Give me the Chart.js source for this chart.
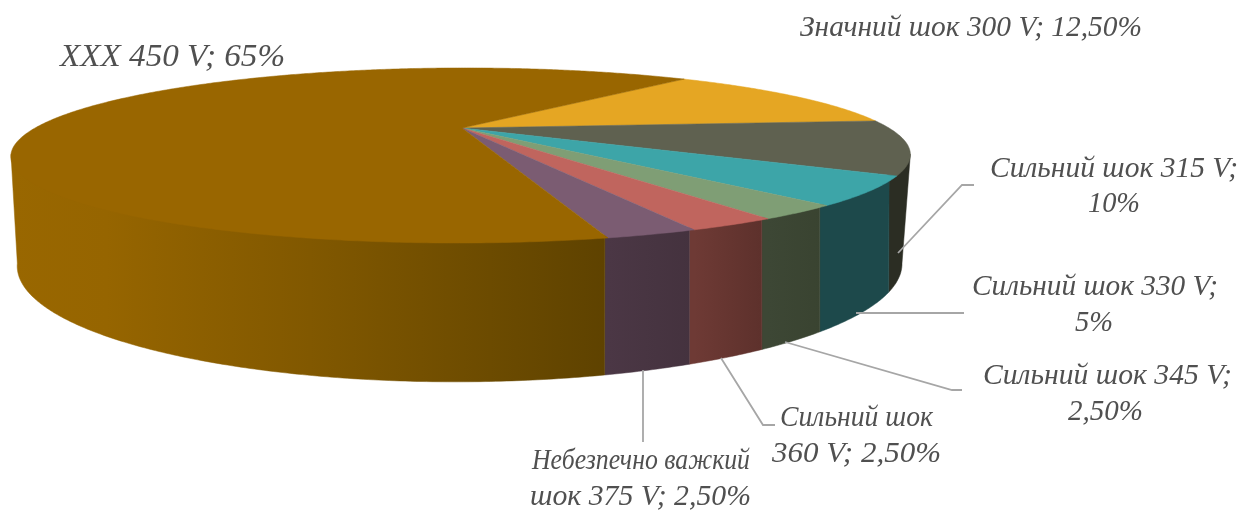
<!DOCTYPE html>
<html>
<head>
<meta charset="utf-8">
<style>
  html, body { margin: 0; padding: 0; background: #fff; }
  canvas { display: block; }
</style>
<script src="https://cdn.jsdelivr.net/npm/chart.js@4"></script>
</head>
<body>
<canvas id="chart" width="1248" height="510"></canvas>
<script>
const categories = ['Значний шок 300 V', 'Сильний шок 315 V', 'Сильний шок 330 V', 'Сильний шок 345 V',
  'Сильний шок 360 V', 'Небезпечно важкий шок 375 V', 'XXX 450 V'];
const shares = [12.5, 10, 5, 2.5, 2.5, 2.5, 65];
const shareLabels = ['12,50%', '10%', '5%', '2,50%', '2,50%', '2,50%', '65%'];

const topColors = ['#e5a623', '#5f6150', '#3da5a8', '#7f9e75', '#c0655e', '#7b5c72', '#996600'];
const wallColors = [
  ['#7a5a10', '#7a5a10'], ['#2b2d23', '#2b2d23'], ['#1d494b', '#1d494b'], ['#3d4735', '#394330'],
  ['#6e3a35', '#5c302b'], ['#4b3745', '#44323e'], null
];
// the big slice fades from the top colour on the left to dark on the right
const bigWallStops = [[0, '#996700'], [0.16, '#966500'], [0.5, '#815800'], [0.8, '#6c4b00'], [1, '#5e4200']];

// perspective of the disc: top face and bottom face
const topDisc = { x: 462, y: 128, a: 427, b: 78.9, c: -4, k: 0.314 };
const bottomDisc = { x: 461, y: 228.2, a: 420, b: 105.4, c: -4, k: 0.314 };

function project(disc, angle, r = 1) {
  const u = r * Math.cos(angle);
  const v = r * Math.sin(angle);
  const w = 1 - disc.k * v;
  return [disc.x + (disc.a * u + disc.c * v) / w, disc.y + disc.b * v / w];
}

// only this part of the rim faces the viewer
const frontFrom = 17.5 * Math.PI / 180;
const frontTo = 162.5 * Math.PI / 180;

// label text and leader lines sit where the original has them, x0-x1 is the width of each line
const labelLayout = [
  { lines: [categories[0] + '; ' + shareLabels[0]], x: [[800, 1142]], y: [36] },
  { lines: [categories[1] + ';', shareLabels[1]], x: [[990, 1238], [1088, 1140]], y: [177, 212], leader: [[898, 253], [962, 185], [974, 185]] },
  { lines: [categories[2] + ';', shareLabels[2]], x: [[972, 1218], [1075, 1113]], y: [295, 331], leader: [[856, 313], [964, 313]] },
  { lines: [categories[3] + ';', shareLabels[3]], x: [[983, 1232], [1068, 1143]], y: [384, 420], leader: [[785, 342], [952, 390], [962, 390]] },
  { lines: ['Сильний шок', '360 V; ' + shareLabels[4]], x: [[780, 933], [772, 941]], y: [426, 462], leader: [[721, 358], [763, 425], [775, 425]] },
  { lines: ['Небезпечно важкий', 'шок 375 V; ' + shareLabels[5]], x: [[532, 750], [530, 751]], y: [469, 505], leader: [[643, 370], [643, 442]] },
  { lines: [categories[6] + '; ' + shareLabels[6]], x: [[60, 285]], y: [66], size: 32 }
];

function wallStyle(ctx, i, x0, x1) {
  if (!wallColors[i]) {
    const g = ctx.createLinearGradient(10, 0, 610, 0);
    bigWallStops.forEach(s => g.addColorStop(s[0], s[1]));
    return g;
  }
  const g = ctx.createLinearGradient(Math.min(x0, x1), 0, Math.max(x0, x1), 0);
  g.addColorStop(0, wallColors[i][0]);
  g.addColorStop(1, wallColors[i][1]);
  return g;
}

function drawWall(ctx, i, from, to) {
  const step = Math.PI / 360;
  const ts = [];
  for (let t = from; t < to; t += step) ts.push(t);
  ts.push(to);
  const x0 = project(topDisc, from)[0];
  const x1 = project(topDisc, to)[0];
  ctx.beginPath();
  // upper edge runs a little under the top face so no white shows through the seam,
  // but comes back to the rim at both ends of the visible wall
  ts.forEach((t, j) => {
    const edge = Math.min(t - frontFrom, frontTo - t);
    const p = project(topDisc, t, 1 - 0.015 * Math.min(1, edge / 0.03));
    if (j) ctx.lineTo(p[0], p[1]); else ctx.moveTo(p[0], p[1]);
  });
  ts.slice().reverse().forEach(t => {
    const p = project(bottomDisc, t);
    ctx.lineTo(p[0], p[1]);
  });
  ctx.closePath();
  const style = wallStyle(ctx, i, x0, x1);
  ctx.fillStyle = style;
  ctx.strokeStyle = style;
  ctx.lineWidth = 0.5;
  ctx.fill();
  ctx.stroke();
}

const pie3d = {
  id: 'pie3d',
  beforeDatasetsDraw(chart) {
    const ctx = chart.ctx;
    const arcs = chart.getDatasetMeta(0).data;
    const step = Math.PI / 360;

    // side wall
    arcs.forEach((arc, i) => {
      [0, -2 * Math.PI, 2 * Math.PI].forEach(shift => {
        const from = Math.max(arc.startAngle + shift, frontFrom);
        const to = Math.min(arc.endAngle + shift, frontTo);
        if (from < to) drawWall(ctx, i, from, to);
      });
    });

    // top face
    arcs.forEach((arc, i) => {
      ctx.beginPath();
      ctx.moveTo(topDisc.x, topDisc.y);
      for (let t = arc.startAngle; t < arc.endAngle; t += step) {
        const p = project(topDisc, t);
        ctx.lineTo(p[0], p[1]);
      }
      const e = project(topDisc, arc.endAngle);
      ctx.lineTo(e[0], e[1]);
      ctx.closePath();
      ctx.fillStyle = topColors[i];
      ctx.strokeStyle = topColors[i];
      ctx.lineWidth = 0.5;
      ctx.fill();
      ctx.stroke();
    });
    return false;
  },
  afterDraw(chart) {
    const ctx = chart.ctx;
    ctx.save();
    ctx.strokeStyle = '#a6a6a6';
    ctx.lineWidth = 1.8;
    labelLayout.forEach(l => {
      if (!l.leader) return;
      ctx.beginPath();
      l.leader.forEach((p, j) => (j ? ctx.lineTo(p[0], p[1]) : ctx.moveTo(p[0], p[1])));
      ctx.stroke();
    });
    ctx.fillStyle = '#505050';
    ctx.textAlign = 'left';
    ctx.textBaseline = 'alphabetic';
    labelLayout.forEach(l => {
      ctx.font = 'italic ' + (l.size || 29) + 'px "Liberation Serif"';
      l.lines.forEach((line, j) => {
        // stretch each line to the width it has in the original
        const sx = (l.x[j][1] - l.x[j][0]) / ctx.measureText(line).width;
        ctx.save();
        ctx.translate(l.x[j][0], l.y[j]);
        ctx.scale(sx, 1);
        ctx.fillText(line, 0, 0);
        ctx.restore();
      });
    });
    ctx.restore();
  }
};

new Chart(document.getElementById('chart'), {
  type: 'pie',
  data: {
    labels: categories,
    datasets: [{ data: shares, backgroundColor: topColors, borderWidth: 0 }]
  },
  options: {
    responsive: false,
    animation: false,
    rotation: 39.7,
    plugins: { legend: { display: false }, tooltip: { enabled: false } }
  },
  plugins: [pie3d]
});
</script>
</body>
</html>
